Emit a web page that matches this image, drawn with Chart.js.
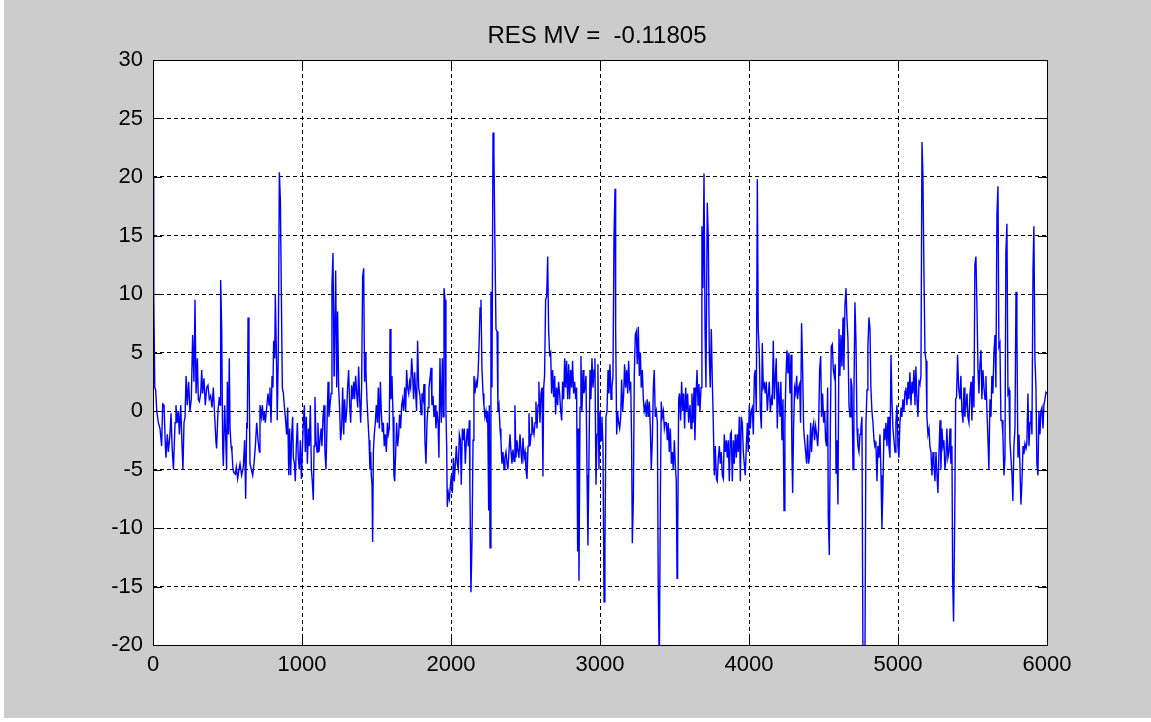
<!DOCTYPE html>
<html>
<head>
<meta charset="utf-8">
<title>RES MV</title>
<script src="https://cdn.jsdelivr.net/npm/chart.js@4.4.1/dist/chart.umd.min.js"></script>
<style>
  html, body { margin: 0; padding: 0; background: #ffffff; }
  #backdrop { position: absolute; left: 4px; top: 0; width: 1147px; height: 718px; background: #cccccc; }
  #resChart { position: absolute; left: 0; top: 0; }
</style>
</head>
<body>
<div id="backdrop"></div>
<canvas id="resChart" width="1151" height="722"></canvas>
<script>
// Residual signal as [sample, value] pairs, one block per ~600 samples
const res0 = [[0,20],[5,10],[12,2],[18,1.8],[25,0],[36,-1],[47,-1.5],[58,-3],[65,0.6],[74,0.5],[83,-3],[87,-4],[96,-2],[103,-3.5],[114,-2],[121,-0.2],[128,-3],[137,-5],[148,-1],[154,0.5],[163,-1],[170,0],[177,-2],[186,0.5],[195,-3],[201,-5],[208,-1],[215,-0.5],[222,3],[230,0.5],[239,2.5],[248,0],[257,1],[266,6.5],[275,2.5],[282,9.5],[289,1.5],[298,4.5],[304,1],[311,0.8],[320,1.5],[327,3.5],[333,1.5],[342,2.8],[351,0.5],[360,2],[369,2.2],[378,1],[387,1.3],[396,0.3],[405,2],[414,-0.5],[423,-2.7],[427,-3.2],[436,0],[445,1.2],[450,0.5],[454,11.2],[461,7],[468,-3.2],[472,-4.7],[481,0.5],[486,-1.5],[494,-5],[499,2.5],[506,-2],[512,4.5],[517,-1.5],[524,-3],[530,-3.5],[537,-5],[544,-5.3],[553,-5.4],[559,-4.8],[568,-5.8],[577,-5]];
const res1 = [[584,-4.5],[595,-5.5],[606,-4.8],[615,-2.5],[622,-7.5],[629,-1],[633,-1.5],[638,8],[644,4.6],[651,-4.5],[660,-5],[669,-5.5],[678,-4.5],[687,-3],[696,-1],[705,-2.5],[714,-3.5],[718,0.5],[727,-0.5],[734,0.5],[741,-0.8],[747,0],[754,-1],[763,0.3],[772,1.5],[779,0.5],[785,2],[792,-1],[799,3],[805,2],[810,6],[817,4.5],[821,10],[828,5],[834,-0.8],[841,5.2],[848,20.4],[855,18],[861,10.5],[868,2],[875,1.5],[881,0.5],[888,-0.5],[897,-2],[904,0.3],[911,-5.5],[917,-1.5],[924,-5.5],[931,-2],[937,-0.5],[942,-4],[949,-4.5],[955,-6],[962,-3],[969,-1],[975,-4],[982,-5],[989,-2.5],[996,-5.8],[1002,-3.5],[1009,-1],[1016,0.5],[1022,-3.5],[1029,-0.5],[1036,-4.5],[1043,-1.5],[1049,-3],[1056,0.5],[1063,-5],[1069,-6],[1076,-7.6],[1081,-3],[1087,1.2],[1094,-2.5],[1101,-3.5],[1107,-1],[1114,-3.5],[1121,-2.5],[1128,-1.5],[1134,-3],[1141,-0.5],[1148,0.5],[1154,-3.5],[1161,-5],[1168,-1],[1175,2.5],[1181,-0.5]];
const res2 = [[1188,0.5],[1195,1.5],[1201,10.8],[1208,13.5],[1215,3],[1217,4],[1226,12],[1233,2],[1239,8.5],[1246,2],[1253,0],[1259,-2.5],[1266,-1.5],[1273,2],[1280,-2],[1286,1],[1293,-1],[1300,0],[1306,2],[1313,3.5],[1320,0.5],[1327,-1],[1333,2.2],[1340,1],[1347,2.5],[1353,1],[1360,3],[1367,1.5],[1374,0.3],[1380,3.8],[1387,1],[1394,-1],[1400,2],[1407,11.5],[1414,12.2],[1420,2.5],[1427,5],[1429,3.5],[1436,1],[1443,-0.8],[1450,-2.5],[1456,-5],[1461,-3.5],[1465,-5.5],[1470,-6.3],[1474,-11.2],[1479,-3.5],[1485,-2],[1492,-1],[1499,0.5],[1506,-1],[1512,2],[1519,-1.5],[1526,2.5],[1532,0],[1539,-1.8],[1546,-1],[1552,-3],[1559,-2],[1566,-3.5],[1573,-1],[1579,-2],[1586,-1.5],[1591,7],[1597,1],[1604,3],[1611,-0.5],[1617,-5.5],[1622,-6],[1629,-3.5],[1635,-1],[1642,-3],[1649,-2],[1655,-0.3],[1662,-1.5],[1669,0.5],[1675,1],[1682,0],[1689,2],[1696,0],[1702,3.5],[1709,2],[1716,1.5],[1722,2.5],[1729,2],[1736,4.5],[1743,3],[1749,1],[1756,3.3],[1763,1.5],[1769,0],[1776,6],[1783,2]];
const res3 = [[1792,1.3],[1799,-0.3],[1805,1.5],[1812,1],[1819,2.3],[1825,-2.5],[1832,-4.5],[1839,-1],[1846,0.3],[1852,2],[1859,2.8],[1866,3.7],[1872,0.5],[1879,1.3],[1886,-0.5],[1893,0.5],[1899,-1.5],[1906,0],[1913,-1],[1919,-4],[1926,4.5],[1931,1],[1935,-1],[1942,4.5],[1948,-0.5],[1953,10.5],[1960,9.5],[1966,0],[1971,-3],[1975,-8.2],[1982,-7],[1989,-7.5],[1995,-6.5],[2002,-5.5],[2009,-7],[2016,-4],[2022,-6],[2029,-4.5],[2036,-3],[2042,-4.5],[2049,-5],[2056,-2],[2063,-2.5],[2069,-6.3],[2076,-1.5],[2083,-2.5],[2089,-1.5],[2096,-4.5],[2103,-2.5],[2110,-1.5],[2116,-3],[2123,-0.8],[2127,-6.5],[2134,-15.5],[2141,-11],[2148,-2.5],[2154,3],[2161,1.5],[2168,2.5],[2174,2],[2181,3],[2188,5.5],[2195,8.8],[2201,9.5],[2208,3.5],[2215,1.5],[2221,0.5],[2228,-0.5],[2235,0],[2241,-1],[2246,0],[2253,-8.5],[2257,0.5],[2262,-11.7],[2268,10.2],[2275,2],[2282,23.8],[2288,22],[2295,14],[2302,7],[2309,6.8],[2315,0],[2322,0.5],[2329,-1.5],[2335,-2.5],[2342,-4.5],[2349,-3.5],[2356,-5],[2362,-4],[2369,-3.5],[2376,-4.5],[2382,-5],[2389,-3.5]];
const res4 = [[2396,-2],[2403,-3.5],[2409,-4.5],[2416,-3.3],[2423,-4.3],[2429,0.5],[2436,-4],[2443,-2.5],[2450,-3.5],[2456,-4],[2463,-2],[2470,-3.5],[2476,-4.5],[2483,-2.3],[2490,-4],[2497,-3.5],[2503,-5],[2510,-5.8],[2517,-3],[2523,-0.2],[2530,-3],[2537,-2],[2543,-0.5],[2550,-1.5],[2557,-2],[2564,-1],[2570,0.8],[2577,-1.5],[2584,0.5],[2590,2.5],[2597,-1],[2604,1.5],[2611,2],[2617,-5.6],[2622,2],[2628,3],[2635,9.5],[2642,9.8],[2649,13.2],[2655,7],[2662,4.8],[2669,5],[2675,1.5],[2682,3.5],[2689,1.2],[2696,3],[2702,-0.3],[2709,2],[2716,0.5],[2722,2.5],[2729,1.5],[2736,0],[2743,-0.8],[2749,2.5],[2756,1],[2763,4.5],[2769,2],[2776,4.3],[2783,1],[2790,4],[2796,1],[2803,3.5],[2810,2],[2816,4.3],[2823,1.5],[2830,2.5],[2837,1],[2843,2],[2850,-12],[2854,-1.5],[2859,-14.5],[2866,0.3],[2872,4.7],[2879,0],[2886,3.5],[2892,1.5],[2899,2],[2906,3],[2913,-5.5],[2919,-11.5],[2926,-4],[2933,3.5],[2939,1],[2946,4.5],[2953,2],[2960,3.5],[2966,4.5],[2973,-6.3],[2980,-2],[2986,4],[2993,-5]];
const res5 = [[3000,0],[3007,-2.5],[3013,-0.5],[3020,-3],[3027,-16.3],[3033,-12],[3040,-0.5],[3047,0],[3054,3.5],[3060,1.5],[3067,4],[3074,1],[3080,2],[3087,3],[3094,15],[3101,19],[3105,7],[3112,-2],[3118,0],[3125,-1],[3132,-1.5],[3139,-0.5],[3145,2.7],[3152,0],[3159,1.5],[3165,4],[3172,2],[3179,3.5],[3186,1.5],[3192,4.3],[3199,2],[3206,2.5],[3212,-2.5],[3217,-11.3],[3224,-7.5],[3230,3],[3237,6.5],[3244,6.8],[3250,4],[3257,7.2],[3264,3],[3271,5],[3277,2],[3284,3.5],[3291,1],[3297,0],[3304,0.5],[3311,-0.5],[3317,1],[3324,-0.5],[3331,0.8],[3338,-1.5],[3344,-5],[3351,-2.5],[3358,2],[3364,3.5],[3371,-0.5],[3378,0],[3385,-1],[3391,-15],[3398,-22],[3405,-7.5],[3411,0.8],[3418,-0.5],[3425,0],[3432,-1.5],[3438,-1],[3445,-1],[3452,-2.5],[3458,-1],[3465,-3.5],[3472,-1.5],[3479,-4.5],[3485,-3.5],[3492,-5],[3499,-2.5],[3505,-4.5],[3512,-6],[3517,-14.3],[3521,-11.5],[3528,1],[3534,1.5],[3541,-0.8],[3548,2.5],[3555,0],[3561,1.5],[3568,-1.5],[3575,2],[3581,0],[3588,1.5],[3595,-1]];
const res6 = [[3604,0.5],[3611,-1.5],[3617,1.5],[3624,-1],[3631,2],[3637,-2.5],[3644,1],[3651,3.5],[3658,0.5],[3664,2.3],[3671,0],[3678,2],[3684,15.8],[3691,10.5],[3698,20.3],[3705,7],[3711,2],[3720,17.8],[3727,14.7],[3734,4.5],[3740,2],[3747,7],[3754,2.5],[3760,-0.8],[3767,-5.5],[3774,-3],[3781,-5.8],[3787,-6],[3794,-4],[3801,-3],[3807,-4.5],[3814,-3.5],[3821,-5.5],[3828,-5.8],[3834,-2],[3841,-3.5],[3848,-2.5],[3854,-4],[3861,-2.5],[3868,-6],[3875,-2],[3881,-1.8],[3888,-6],[3895,-2.5],[3901,-4.5],[3908,-2],[3915,-4],[3921,-2],[3928,-3.5],[3935,-0.5],[3942,-6],[3948,-0.5],[3955,-1],[3962,-3.5],[3968,-4.5],[3975,-5.5],[3982,-3],[3989,-1],[3995,-3.5],[4002,0.5],[4009,-1.5],[4015,0],[4022,0.3],[4029,-2],[4036,3],[4042,3.5],[4049,0],[4056,19.8],[4062,7],[4069,5],[4076,0],[4083,-1.5],[4089,5.8],[4096,2],[4103,2.3],[4109,1.5],[4116,2.5],[4123,0],[4130,1.5],[4136,2.5],[4143,0],[4150,1],[4156,0.5],[4163,6],[4170,1],[4177,3],[4183,4.5],[4190,-1.5],[4197,2.5],[4203,1]];
const res7 = [[4208,-0.5],[4214,2.5],[4221,-2.5],[4228,1],[4235,-8.5],[4241,-1],[4248,3],[4255,5.2],[4261,3.2],[4268,5],[4275,1.5],[4282,4.8],[4288,-3.5],[4293,-7],[4299,-1.5],[4306,2],[4313,1.5],[4320,3],[4326,1],[4333,2],[4340,2.3],[4346,-1],[4353,7.5],[4360,3.5],[4367,-1.5],[4373,-2.5],[4380,-3.5],[4387,-4.5],[4393,-2],[4400,-4.5],[4407,-3.8],[4414,-1],[4420,-3.5],[4427,-1.5],[4434,-1],[4440,-2.5],[4447,-1.3],[4454,-2],[4461,-3],[4467,-1.5],[4474,3.5],[4481,4.7],[4487,-0.5],[4494,1.5],[4501,-1],[4508,0],[4514,-2.5],[4521,-3],[4528,2],[4532,-9],[4539,-12.3],[4546,-1.5],[4552,5.5],[4559,5.7],[4566,3.5],[4572,3],[4579,4],[4584,-5.3],[4590,-2.5],[4597,-8],[4604,7],[4610,3],[4617,6.5],[4624,3.8],[4631,8],[4637,3.5],[4644,9],[4651,10.5],[4657,8],[4664,6.2],[4671,0.5],[4678,-0.5],[4684,2.8],[4691,2],[4698,-5],[4704,1],[4711,9.3],[4718,6],[4725,-1.5],[4731,-3],[4738,-3.5],[4745,-2],[4751,-1.5],[4758,-0.5],[4765,-22],[4771,-22],[4778,-22],[4785,-1],[4792,1.8],[4798,5.5],[4805,8]];
const res8 = [[4812,7],[4818,2],[4825,0],[4832,-1],[4839,-2.5],[4845,-3],[4852,-2.8],[4859,-6],[4865,-3],[4872,-4],[4879,-2],[4886,-5.5],[4892,-10],[4899,-6.5],[4906,-1.5],[4912,-2.5],[4919,-1],[4926,-3],[4933,-0.5],[4939,-3],[4946,-4],[4953,4.8],[4959,1],[4966,-1.5],[4973,-2.5],[4980,-3.5],[4986,-1],[4993,0.5],[5000,-3],[5006,-4],[5013,-1],[5020,0.3],[5026,-0.5],[5033,1],[5040,0],[5047,1.7],[5053,2],[5060,0.5],[5067,2.5],[5073,1],[5080,3.3],[5087,0.5],[5094,2.5],[5100,1.5],[5107,3.5],[5114,0.5],[5120,3.8],[5127,1],[5134,-0.5],[5141,2.5],[5147,2.3],[5154,3],[5161,23],[5167,20.3],[5174,12],[5181,5],[5188,4.3],[5194,-0.5],[5201,-2],[5208,-1.5],[5214,-3],[5221,-3.5],[5228,-5.5],[5235,-3.5],[5241,-4.5],[5248,-6],[5255,-3.5],[5261,-5.3],[5268,-7],[5275,-3.5],[5282,-0.8],[5288,-5],[5295,-1.5],[5302,-3],[5308,-2.5],[5315,-5],[5322,-4],[5328,-1.5],[5335,-4],[5342,-3.5],[5349,-1.5],[5355,-4.5],[5362,-3],[5367,-14.5],[5373,-18],[5380,-10],[5387,1],[5393,1.2],[5400,4.8],[5407,2]];
const res9 = [[5416,1],[5422,3],[5429,0],[5436,-1],[5443,2],[5449,-0.5],[5456,0.5],[5463,1.5],[5469,-0.5],[5476,-1],[5483,1.5],[5490,2.5],[5496,-0.8],[5503,3],[5510,0.3],[5516,12.5],[5523,13.2],[5530,8.8],[5537,3.5],[5543,1.5],[5550,4],[5557,5.2],[5563,1],[5570,3.5],[5577,2],[5584,1],[5590,3],[5597,0],[5604,-2.5],[5610,-5],[5617,1],[5624,-0.5],[5630,3],[5637,1.5],[5644,5],[5651,6.5],[5657,2],[5664,16.8],[5671,19.2],[5677,5.5],[5684,5.8],[5691,-0.8],[5698,-0.8],[5704,-2],[5711,-5.5],[5718,-4],[5724,13.5],[5731,16],[5738,1.5],[5745,1.8],[5751,-2.5],[5758,-4],[5765,-5.5],[5771,-7.7],[5778,-3],[5785,-1.5],[5792,10.2],[5798,6.5],[5805,-4],[5812,-2],[5818,-4.5],[5825,-8],[5832,-6],[5839,-3],[5845,-3.7],[5852,-2.8],[5859,-3.2],[5865,-2.7],[5872,1.5],[5879,-3],[5886,-1],[5892,0],[5899,-2],[5906,12],[5912,15.8],[5919,4.5],[5926,2],[5932,-4.5],[5939,-5.5],[5946,0],[5953,-2],[5959,0],[5966,0.3],[5973,-1.5],[5979,0.5],[5986,1],[5993,1.6],[6000,1.5]];

const xTickValues = [0, 1000, 2000, 3000, 4000, 5000, 6000];
const yTickValues = [-20, -15, -10, -5, 0, 5, 10, 15, 20, 25, 30];
const titleText = "RES MV =  -0.11805";

const allPoints = [].concat(res0, res1, res2, res3, res4, res5, res6, res7, res8, res9)
  .map(p => ({x: p[0], y: p[1]}));

const tickFont = {family: "'Liberation Sans', Arial, sans-serif", size: 22};

// white axes area, black box, inward ticks and the title, MATLAB style
const matlabAxes = {
  id: 'matlabAxes',
  beforeDraw(chart) {
    const a = chart.chartArea, ctx = chart.ctx;
    ctx.save();
    ctx.fillStyle = '#ffffff';
    ctx.fillRect(a.left, a.top, a.right - a.left, a.bottom - a.top);
    ctx.restore();
  },
  afterDraw(chart) {
    const a = chart.chartArea, ctx = chart.ctx;
    const xs = chart.scales.x, ys = chart.scales.y;
    const len = 9;
    ctx.save();
    ctx.strokeStyle = '#000000';
    ctx.lineWidth = 1;
    ctx.beginPath();
    xTickValues.forEach(v => {
      const px = Math.round(xs.getPixelForValue(v)) + 0.5;
      ctx.moveTo(px, a.bottom); ctx.lineTo(px, a.bottom - len);
      ctx.moveTo(px, a.top); ctx.lineTo(px, a.top + len);
    });
    yTickValues.forEach(v => {
      const py = Math.round(ys.getPixelForValue(v)) + 0.5;
      ctx.moveTo(a.left, py); ctx.lineTo(a.left + len, py);
      ctx.moveTo(a.right, py); ctx.lineTo(a.right - len, py);
    });
    ctx.stroke();
    ctx.strokeRect(Math.round(a.left) + 0.5, Math.round(a.top) + 0.5,
      Math.round(a.right - a.left), Math.round(a.bottom - a.top));
    ctx.fillStyle = '#000000';
    ctx.font = "24px 'Liberation Sans', Arial, sans-serif";
    ctx.textAlign = 'center';
    ctx.textBaseline = 'middle';
    ctx.fillText(titleText, (a.left + a.right) / 2 - 3, a.top - 24);
    ctx.restore();
  }
};

new Chart(document.getElementById('resChart'), {
  type: 'line',
  data: {
    datasets: [{
      label: 'RES',
      data: allPoints,
      borderColor: '#0000ff',
      borderWidth: 1.4,
      pointRadius: 0,
      tension: 0,
      fill: false
    }]
  },
  options: {
    responsive: false,
    animation: false,
    devicePixelRatio: 1,
    layout: {padding: {left: 0, right: 104, top: 60, bottom: 0}},
    plugins: {legend: {display: false}, tooltip: {enabled: false}, title: {display: false}},
    scales: {
      x: {
        type: 'linear',
        min: 0,
        max: 6000,
        afterBuildTicks: s => { s.ticks = xTickValues.map(v => ({value: v})); },
        afterFit: s => { s.height = 77; },
        ticks: {color: '#000000', font: tickFont, padding: 7, maxRotation: 0, autoSkip: false,
                callback: v => String(v)},
        grid: {color: '#000000', lineWidth: 1, drawTicks: false},
        border: {display: false, dash: [4, 3]}
      },
      y: {
        type: 'linear',
        min: -20,
        max: 30,
        afterBuildTicks: s => { s.ticks = yTickValues.map(v => ({value: v})); },
        afterFit: s => { s.width = 153; },
        ticks: {color: '#000000', font: tickFont, padding: 10, autoSkip: false,
                callback: v => String(v)},
        grid: {color: '#000000', lineWidth: 1, drawTicks: false},
        border: {display: false, dash: [4, 3]}
      }
    }
  },
  plugins: [matlabAxes]
});
</script>
</body>
</html>
